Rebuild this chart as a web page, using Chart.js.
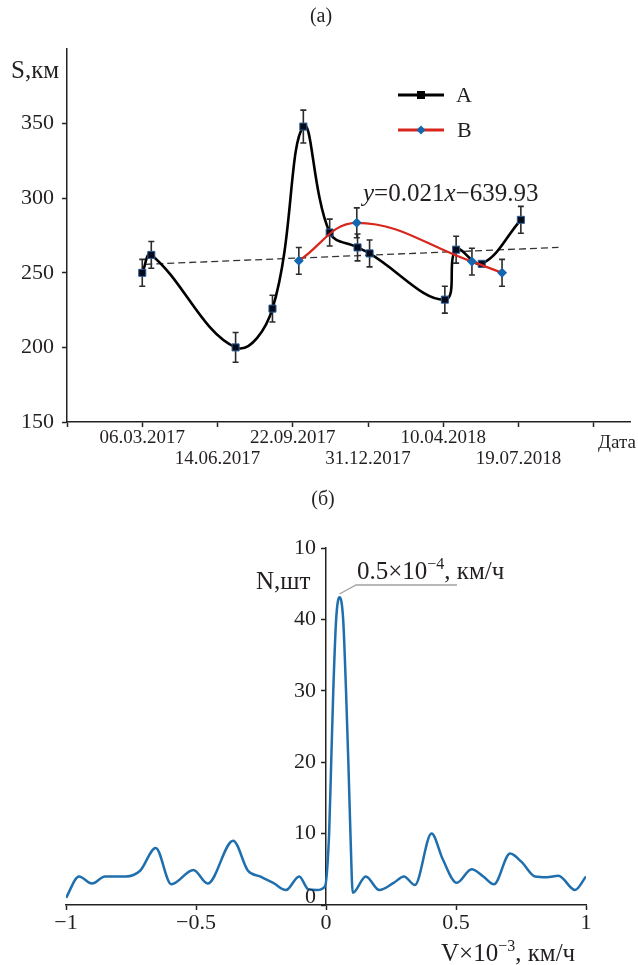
<!DOCTYPE html>
<html>
<head>
<meta charset="utf-8">
<script src="https://cdn.jsdelivr.net/npm/chart.js@4/dist/chart.umd.min.js"></script>
<style>
  body { margin: 0; background: #fff; }
  #wrap { position: relative; width: 638px; height: 965px; }
  canvas { position: absolute; left: 0; }
  #chartA { top: 0; }
  #chartB { top: 480px; }
</style>
</head>
<body>
<div id="wrap">
  <canvas id="chartA" width="638" height="480"></canvas>
  <canvas id="chartB" width="638" height="485"></canvas>
</div>
<script>
// (а) days counted from 06.03.2017, S in km
const dateLabels = ['06.03.2017', '14.06.2017', '22.09.2017', '31.12.2017', '10.04.2018', '19.07.2018'];
const daysA = [0, 12, 124, 173, 214, 249, 286, 302, 402, 417, 451, 503];
const distA = [250, 262, 200, 226, 348, 277, 267, 263, 232, 265.5, 256, 285.5];
const errA = [9, 9, 10, 9, 11, 9, 9, 9, 9, 9, 0, 9];
const daysB = [208, 285, 438, 478];
const distB = [258, 283.5, 257.5, 250];
const errB = [9, 10, 9, 9];
const trendDays = [4, 553];
const trendDist = [255.7, 267];

// (б) velocity histogram
const velX = [-1.0, -0.95, -0.90, -0.85, -0.77, -0.715, -0.655, -0.595, -0.51, -0.455, -0.357, -0.30,
  -0.254, -0.203, -0.154, -0.103, -0.068, -0.035, -0.004, 0.012, 0.02, 0.028, 0.039, 0.052, 0.066,
  0.077, 0.086, 0.094, 0.103, 0.153, 0.205, 0.26, 0.30, 0.342, 0.406, 0.449, 0.503, 0.56, 0.605,
  0.646, 0.708, 0.753, 0.804, 0.849, 0.894, 0.958, 1.0];
const countN = [1.0, 4.0, 3.0, 4.0, 4.0, 4.8, 8.0, 2.9, 4.9, 3.0, 9.0, 4.8,
  4.0, 3.1, 2.1, 4.0, 2.2, 2.1, 2.6, 10, 20, 30, 40, 43.1, 40,
  30, 20, 10, 1.7, 4.0, 2.1, 3.1, 4.0, 2.8, 10.0, 6.4, 3.1, 5.0, 4.0,
  2.9, 7.2, 6.0, 4.0, 3.9, 4.1, 2.1, 4.0];
const countTicks = [0, 10, 20, 30, 40, 50];
const countTickText = ['0', '10', '20', '30', '40', '10'];

const SERIF = 'Liberation Serif';
const INK = '#231f20';
Chart.defaults.font.family = SERIF;
Chart.defaults.color = INK;

function toPoints(xs, ys) {
  return xs.map((x, i) => ({ x: x, y: ys[i] }));
}

// draws text pieces one after another: {t, size, italic, dy}
function drawRich(ctx, x, y, parts) {
  ctx.textBaseline = 'alphabetic';
  ctx.textAlign = 'left';
  parts.forEach(p => {
    ctx.font = (p.italic ? 'italic ' : '') + p.size + 'px "' + SERIF + '"';
    ctx.fillText(p.t, x, y + (p.dy || 0));
    x += ctx.measureText(p.t).width;
  });
}

function noPad(scale) {
  scale.paddingLeft = 0;
  scale.paddingRight = 0;
  scale.paddingTop = 0;
  scale.paddingBottom = 0;
}

const errorBars = {
  id: 'errorBars',
  beforeDatasetsDraw(chart) {
    const { ctx, scales: { x, y } } = chart;
    ctx.save();
    ctx.strokeStyle = '#2b2b2b';
    ctx.lineWidth = 1.6;
    [[daysA, distA, errA], [daysB, distB, errB]].forEach(([xs, ys, es]) => {
      xs.forEach((d, i) => {
        if (!es[i]) return;
        const px = x.getPixelForValue(d);
        const t = y.getPixelForValue(ys[i] + es[i]);
        const b = y.getPixelForValue(ys[i] - es[i]);
        ctx.beginPath();
        ctx.moveTo(px, t); ctx.lineTo(px, b);
        ctx.moveTo(px - 3, t); ctx.lineTo(px + 3, t);
        ctx.moveTo(px - 3, b); ctx.lineTo(px + 3, b);
        ctx.stroke();
      });
    });
    ctx.restore();
  }
};

const textA = {
  id: 'textA',
  afterDraw(chart) {
    const ctx = chart.ctx;
    ctx.save();
    ctx.fillStyle = INK;
    ctx.textBaseline = 'middle';
    ctx.textAlign = 'center';
    ctx.font = '20px "' + SERIF + '"';
    ctx.fillText('(а)', 321, 17);
    ctx.textAlign = 'left';
    ctx.font = '25px "' + SERIF + '"';
    ctx.fillText('S,км', 11, 71);
    ctx.font = '19px "' + SERIF + '"';
    ctx.fillText('Дата', 598, 443);
    drawRich(ctx, 363, 201, [
      { t: 'y', size: 25, italic: true },
      { t: '=0.021', size: 25 },
      { t: 'x', size: 25, italic: true },
      { t: '\u2212639.93', size: 25 }
    ]);

    // legend
    ctx.lineWidth = 3;
    ctx.strokeStyle = '#000';
    ctx.beginPath(); ctx.moveTo(398, 95); ctx.lineTo(444, 95); ctx.stroke();
    ctx.fillStyle = '#000';
    ctx.fillRect(417, 91, 8, 8);
    ctx.strokeStyle = '#d9261c';
    ctx.beginPath(); ctx.moveTo(398, 130); ctx.lineTo(444, 130); ctx.stroke();
    ctx.fillStyle = '#1566b0';
    ctx.beginPath();
    ctx.moveTo(421, 125.5); ctx.lineTo(425.5, 130); ctx.lineTo(421, 134.5); ctx.lineTo(416.5, 130);
    ctx.closePath(); ctx.fill();
    ctx.fillStyle = INK;
    ctx.textBaseline = 'middle';
    ctx.font = '22px "' + SERIF + '"';
    ctx.fillText('A', 456, 96);
    ctx.fillText('B', 457, 131);
    ctx.restore();
  }
};

const hideTop = c => (c.tick && c.tick.value === 400 ? 'rgba(0,0,0,0)' : '#222');

new Chart(document.getElementById('chartA'), {
  type: 'line',
  data: {
    datasets: [
      {
        label: 'B',
        data: toPoints(daysB, distB),
        borderColor: '#d9261c',
        borderWidth: 2.2,
        tension: 0.4,
        pointStyle: 'rectRot',
        pointRadius: 5,
        pointBackgroundColor: '#1566b0',
        pointBorderColor: '#1566b0',
        pointBorderWidth: 0,
        order: 0
      },
      {
        label: 'A',
        data: toPoints(daysA, distA),
        borderColor: '#000',
        borderWidth: 2.6,
        tension: 0.4,
        pointStyle: 'rect',
        pointRadius: 5,
        pointBackgroundColor: '#050a18',
        pointBorderColor: '#2e5d99',
        pointBorderWidth: 1,
        order: 1
      },
      {
        label: 'trend',
        data: toPoints(trendDays, trendDist),
        borderColor: '#333',
        borderWidth: 1.3,
        borderDash: [7, 4],
        pointRadius: 0,
        tension: 0,
        order: 2
      }
    ]
  },
  options: {
    responsive: false,
    animation: false,
    layout: { padding: { top: 49, right: 8, left: 0, bottom: 0 } },
    plugins: { legend: { display: false }, tooltip: { enabled: false } },
    scales: {
      x: {
        type: 'linear',
        min: -100,
        max: 648,
        border: { color: '#222', width: 1.5 },
        grid: { drawOnChartArea: false, drawTicks: true, tickLength: 5, color: '#222', tickWidth: 1.5 },
        ticks: {
          stepSize: 100,
          includeBounds: false,
          autoSkip: false,
          maxRotation: 0,
          padding: 0,
          color: INK,
          font: { size: 19, lineHeight: 1.13 },
          callback: v => {
            const i = Math.round(v / 100);
            if (i < 0 || i >= dateLabels.length) return '';
            return i % 2 === 0 ? [dateLabels[i]] : ['', dateLabels[i]];
          }
        },
        afterFit: s => { s.height = 58; noPad(s); }
      },
      y: {
        min: 150,
        max: 400,
        border: { color: '#222', width: 1.5 },
        grid: { drawOnChartArea: false, drawTicks: true, tickLength: 5, color: hideTop, tickWidth: 1.5 },
        ticks: {
          stepSize: 50,
          padding: 8,
          color: INK,
          font: { size: 22 },
          callback: v => (v === 400 ? '' : String(v))
        },
        afterFit: s => { s.width = 67; noPad(s); }
      }
    }
  },
  plugins: [errorBars, textA]
});

const textB = {
  id: 'textB',
  afterDraw(chart) {
    const ctx = chart.ctx;
    const x0 = chart.scales.x.getPixelForValue(0);
    ctx.save();
    ctx.fillStyle = INK;
    ctx.textBaseline = 'middle';
    ctx.textAlign = 'center';
    ctx.font = '20px "' + SERIF + '"';
    ctx.fillText('(б)', 323, 20);

    // y tick labels, left of the axis that sits at V = 0
    ctx.textAlign = 'right';
    ctx.font = '22px "' + SERIF + '"';
    countTicks.forEach((v, i) => {
      const py = chart.scales.y.getPixelForValue(v) - (v === 0 ? 8 : 0);
      ctx.fillText(countTickText[i], x0 - 10, py);
    });

    ctx.textAlign = 'left';
    ctx.font = '25px "' + SERIF + '"';
    ctx.fillText('N,шт', 256, 102);

    // peak callout
    ctx.strokeStyle = '#a3a3a3';
    ctx.lineWidth = 1.4;
    ctx.beginPath();
    ctx.moveTo(339.5, 114); ctx.lineTo(356, 105); ctx.lineTo(457, 105);
    ctx.stroke();
    ctx.fillStyle = INK;
    drawRich(ctx, 357, 99, [
      { t: '0.5\u00d710', size: 25 },
      { t: '\u22124', size: 16, dy: -10 },
      { t: ', км/ч', size: 25 }
    ]);
    drawRich(ctx, 441, 481, [
      { t: 'V\u00d710', size: 25 },
      { t: '\u22123', size: 16, dy: -10 },
      { t: ', км/ч', size: 25 }
    ]);
    ctx.restore();
  }
};

new Chart(document.getElementById('chartB'), {
  type: 'line',
  data: {
    datasets: [{
      label: 'N',
      data: toPoints(velX, countN),
      borderColor: '#1f6fae',
      borderWidth: 2.5,
      cubicInterpolationMode: 'monotone',
      pointRadius: 0
    }]
  },
  options: {
    responsive: false,
    animation: false,
    layout: { padding: { top: 68, right: 52, left: 66, bottom: 0 } },
    plugins: { legend: { display: false }, tooltip: { enabled: false } },
    scales: {
      x: {
        type: 'linear',
        min: -1,
        max: 1,
        border: { color: '#222', width: 1.5 },
        grid: { drawOnChartArea: false, drawTicks: true, tickLength: 5, color: '#222', tickWidth: 1.5 },
        ticks: {
          stepSize: 0.5,
          maxRotation: 0,
          padding: 0,
          color: INK,
          font: { size: 22 },
          callback: v => String(v).replace('-', '\u2212')
        },
        afterFit: s => { s.height = 60; noPad(s); }
      },
      y: {
        position: { x: 0 },
        min: 0,
        max: 50,
        border: { color: '#222', width: 1.5 },
        grid: { drawOnChartArea: false, drawTicks: true, tickLength: 4, color: '#222', tickWidth: 1.5 },
        ticks: { stepSize: 10, display: false },
        afterFit: s => { noPad(s); }
      }
    }
  },
  plugins: [textB]
});
</script>
</body>
</html>
